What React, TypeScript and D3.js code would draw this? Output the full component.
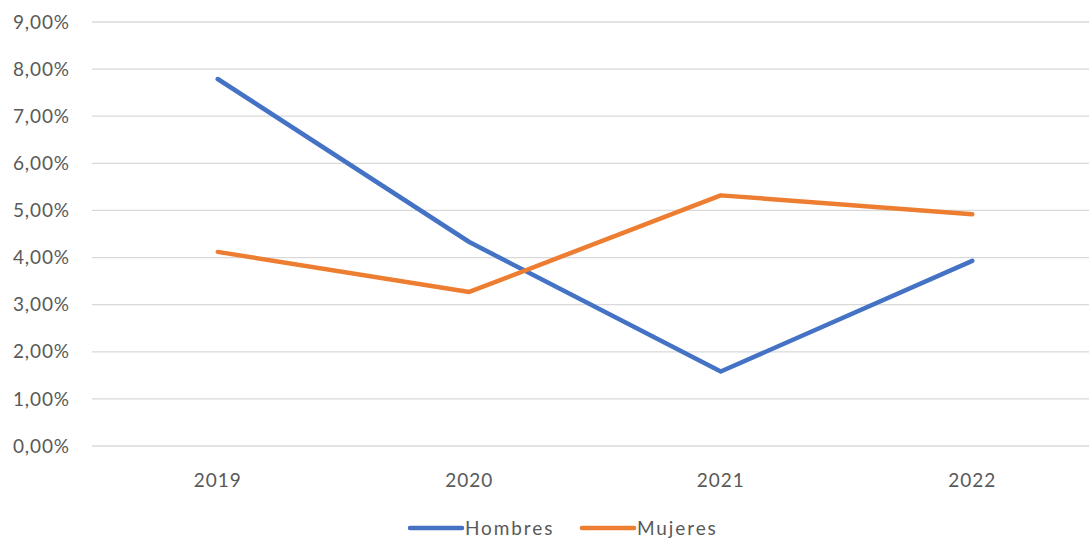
import * as d3 from 'd3'

const YEARS = ['2019', '2020', '2021', '2022']
const HOMBRES = [0.0779, 0.0433, 0.0158, 0.0393]
const MUJERES = [0.0412, 0.0327, 0.0532, 0.0492]
const Y_TICKS = [0, 0.01, 0.02, 0.03, 0.04, 0.05, 0.06, 0.07, 0.08, 0.09]

const W = 1089
const H = 540
const FONT = "Lato, 'Noto Sans', sans-serif"
const TEXT = '#595959'
const GRID = '#D9D9D9'
const BLUE = '#4472C4'
const ORANGE = '#ED7D31'

const SERIES = [
  { name: 'Hombres', values: HOMBRES, color: BLUE },
  { name: 'Mujeres', values: MUJERES, color: ORANGE },
]

const fmt = (v: number) => (v * 100).toFixed(2).replace('.', ',') + '%'

export default function App() {
  const x = d3.scaleBand<string>().domain(YEARS).range([92, 1098])
  const y = d3.scaleLinear().domain([0, 0.09]).range([446, 22])
  const cx = (d: string) => (x(d) ?? 0) + x.bandwidth() / 2

  const line = d3
    .line<number>()
    .x((_, i) => cx(YEARS[i]))
    .y((v) => y(v))

  return (
    <svg width={W} height={H} style={{ display: 'block', position: 'absolute', left: 0, top: 0 }}>
      <rect width={W} height={H} fill="#fff" />
      {Y_TICKS.map((t) => (
        <g key={t}>
          <line x1={92} x2={W} y1={y(t)} y2={y(t)} stroke={GRID} strokeWidth={1.3} />
          <text x={70} y={y(t)} dy="0.35em" textAnchor="end" fontFamily={FONT} fontSize={19} fill={TEXT} letterSpacing={0.9}>
            {fmt(t)}
          </text>
        </g>
      ))}
      {YEARS.map((d) => (
        <text key={d} x={cx(d)} y={480} dy="0.35em" textAnchor="middle" fontFamily={FONT} fontSize={19} fill={TEXT} letterSpacing={1}>
          {d}
        </text>
      ))}
      {SERIES.map((s) => (
        <path
          key={s.name}
          d={line(s.values) ?? ''}
          fill="none"
          stroke={s.color}
          strokeWidth={4.5}
          strokeLinecap="round"
          strokeLinejoin="round"
        />
      ))}
      {SERIES.map((s, i) => {
        const lx = i === 0 ? 410 : 582
        return (
          <g key={s.name}>
            <line x1={lx} x2={lx + 52} y1={528} y2={528} stroke={s.color} strokeWidth={4.5} strokeLinecap="round" />
            <text x={lx + 55} y={528} dy="0.35em" fontFamily={FONT} fontSize={19} fill={TEXT} letterSpacing={1.9}>
              {s.name}
            </text>
          </g>
        )
      })}
    </svg>
  )
}
